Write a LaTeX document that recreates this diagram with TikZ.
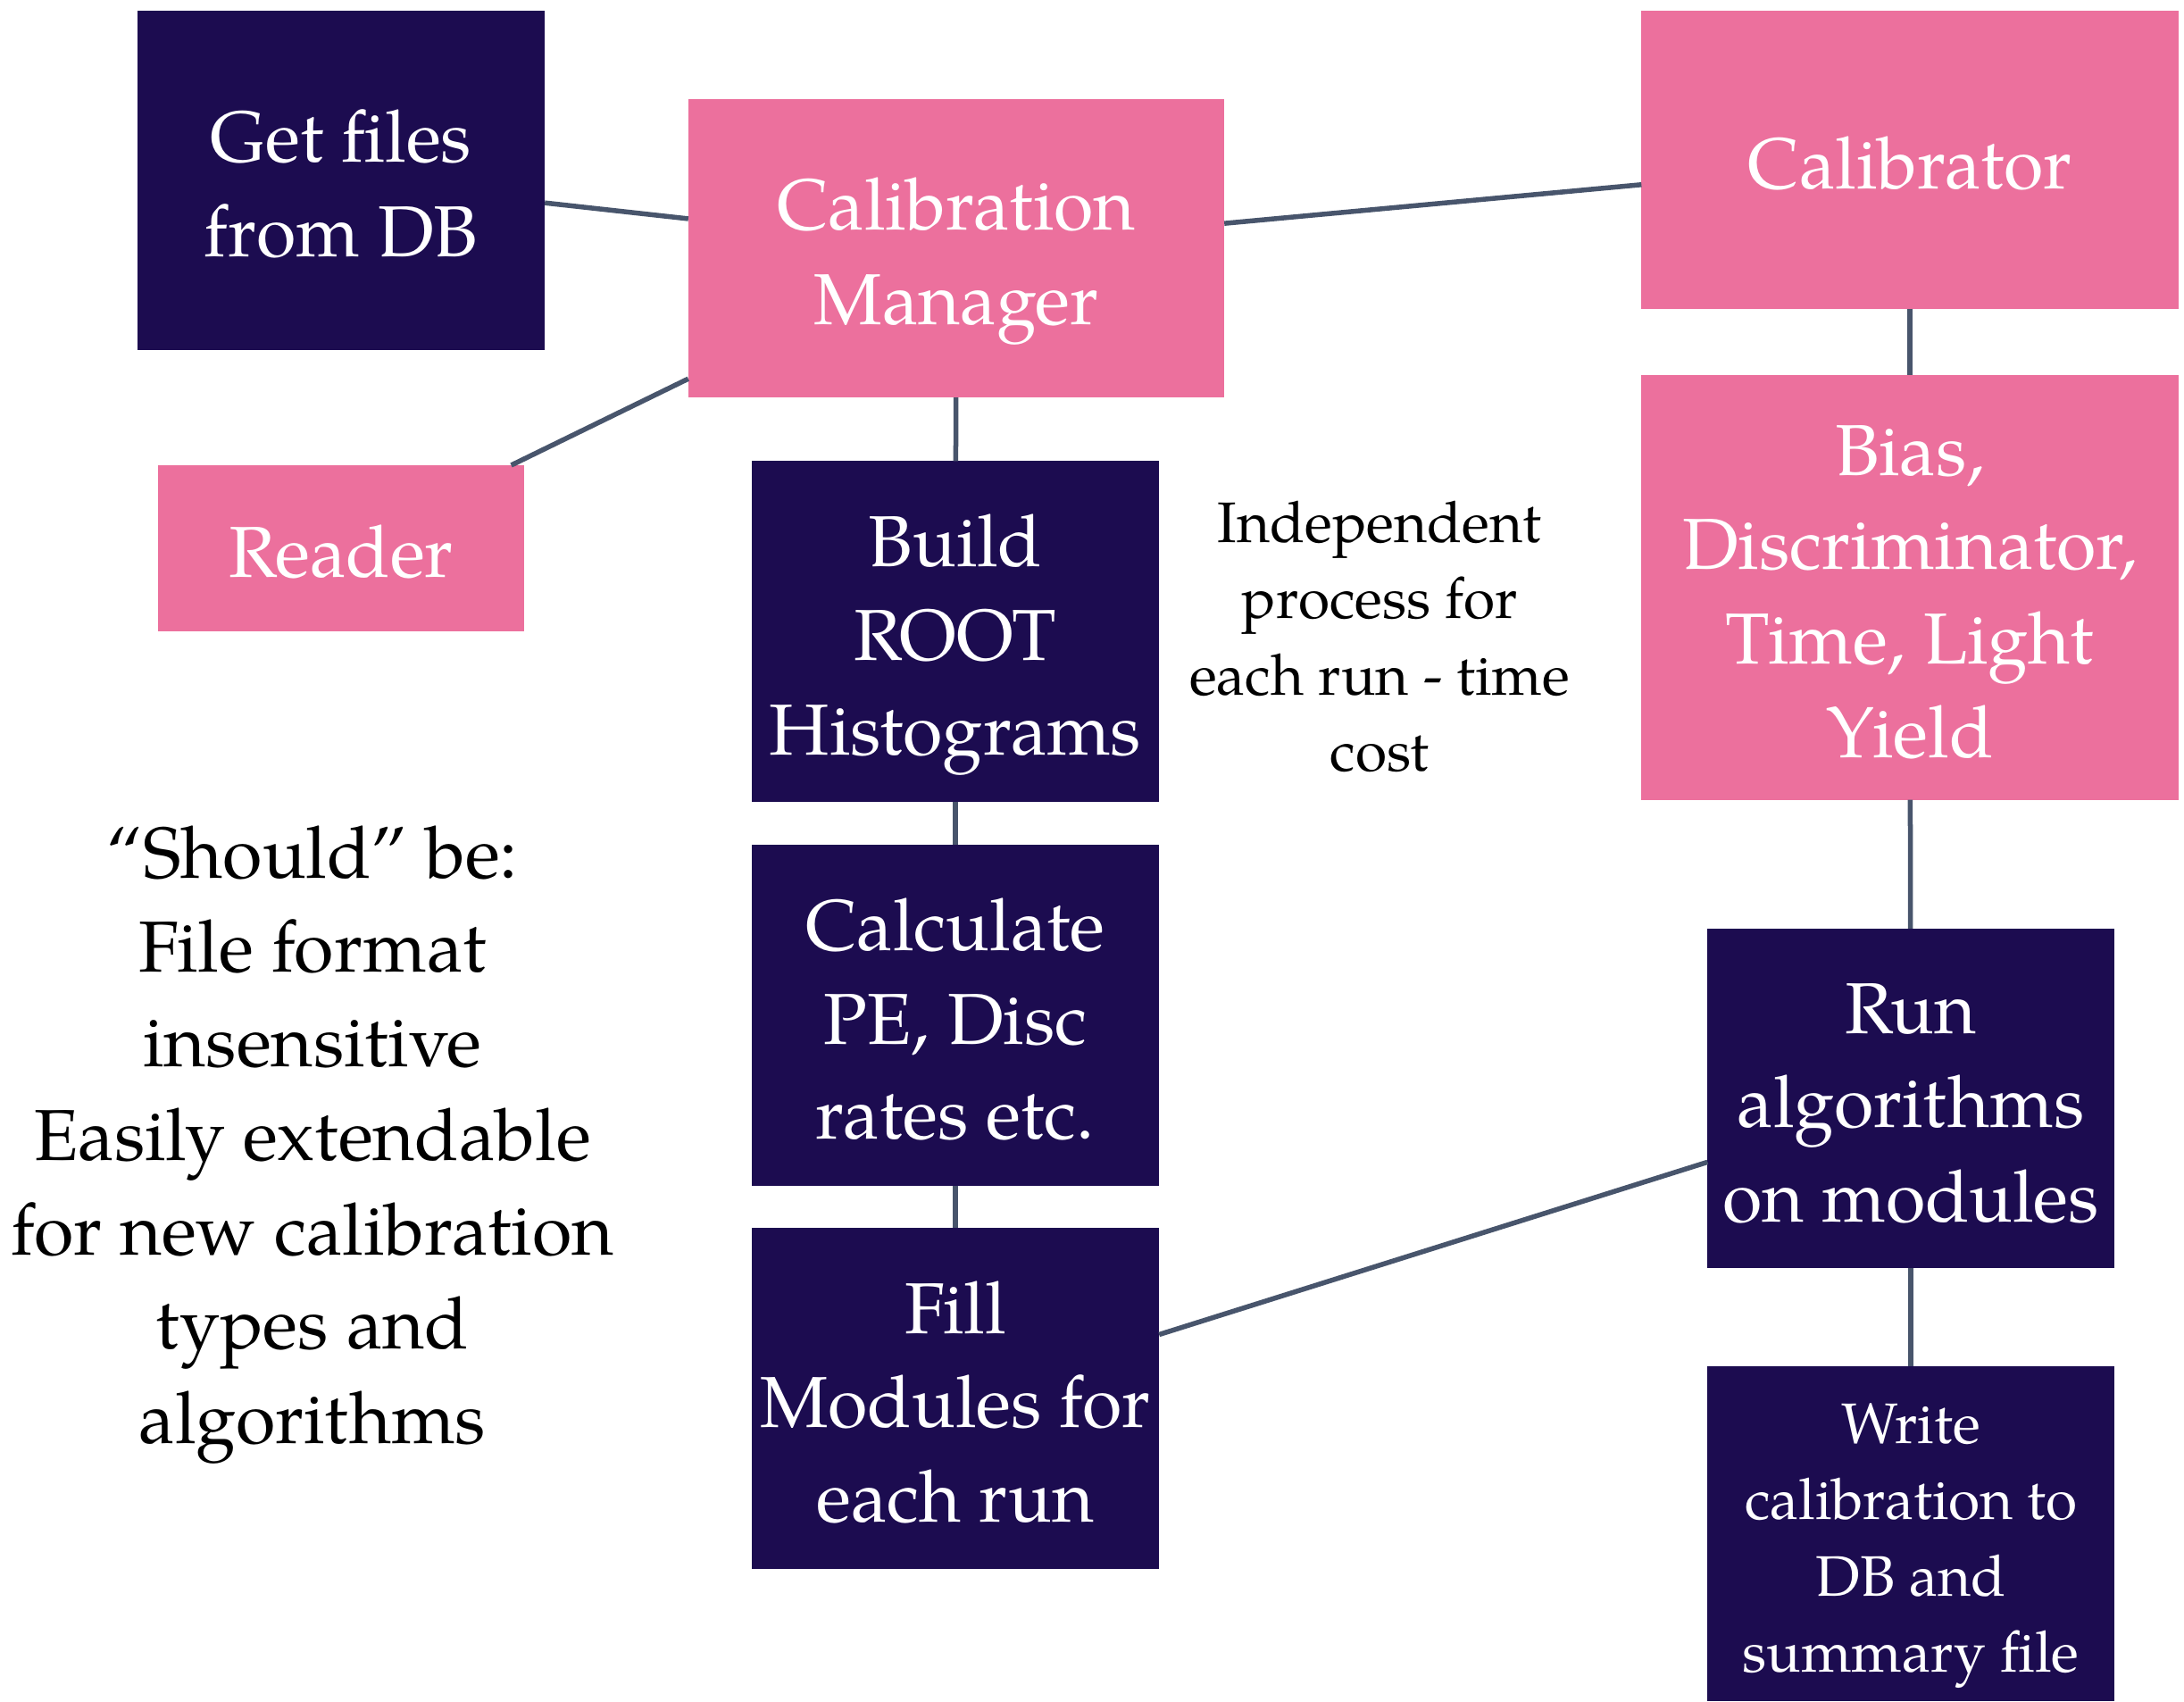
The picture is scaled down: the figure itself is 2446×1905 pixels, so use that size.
\documentclass[tikz,border=0pt]{standalone}
\usepackage{fontspec}
\setmainfont{TeX Gyre Pagella}
\definecolor{navy}{RGB}{28,12,80}
\definecolor{pinkc}{RGB}{236,112,157}
\definecolor{linec}{RGB}{72,85,108}
\newcommand\Tst{\rule{0pt}{25pt}}
\newcommand\Bst{\rule[-6.5pt]{0pt}{6.5pt}}
\newcommand\Tss{\rule{0pt}{20.4pt}}
\newcommand\Bss{\rule[-5pt]{0pt}{5pt}}
\tikzset{
  box/.style={rectangle, inner sep=0pt, outer sep=0pt, align=center, text=white,
    font=\fontsize{23}{30}\selectfont},
  navybox/.style={box, fill=navy},
  pinkbox/.style={box, fill=pinkc},
  smallfont/.style={font=\fontsize{18.2}{24.3}\selectfont},
  conn/.style={draw=linec, line width=0.055cm},
}
\begin{document}
\begin{tikzpicture}[x=0.01cm, y=-0.01cm]
\useasboundingbox (0,0) rectangle (2446,1905);
\node[navybox, minimum width=4.56cm, minimum height=3.80cm] (gf) at (382,202) {\Tst Get files\\from DB\Bst};
\node[pinkbox, minimum width=6.00cm, minimum height=3.34cm] (cm) at (1071,278) {\Tst Calibration\\Manager\Bst};
\node[pinkbox, minimum width=6.01cm, minimum height=3.33cm] (cal) at (2139,179) {\Tst Calibrator\Bst};
\node[pinkbox, minimum width=4.09cm, minimum height=1.86cm] (rd) at (382,614) {\Tst Reader\Bst};
\node[navybox, minimum width=4.56cm, minimum height=3.81cm] (bh) at (1070,707) {\Tst Build\\ROOT\\Histograms\Bst};
\node[pinkbox, minimum width=6.01cm, minimum height=4.75cm] (bias) at (2139,658) {\Tst Bias,\\Discriminator,\\Time, Light\\Yield\Bst};
\node[navybox, minimum width=4.56cm, minimum height=3.81cm] (calc) at (1070,1137) {\Tst Calculate\\PE, Disc\\rates etc.\Bst};
\node[navybox, minimum width=4.56cm, minimum height=3.81cm] (fill) at (1070,1566) {\Tst Fill\\Modules for\\each run\Bst};
\node[navybox, minimum width=4.55cm, minimum height=3.80cm] (run) at (2140,1230) {\Tst Run\\algorithms\\on modules\Bst};
\node[navybox, smallfont, minimum width=4.55cm, minimum height=3.75cm] (wr) at (2140,1717.5) {\Tss Write\\calibration to\\DB and\\summary file\Bss};
\node[smallfont, align=center, text=black, inner sep=0pt] (ind) at (1545,713) {Independent\\process for\\each run - time\\cost};
\node[align=center, text=black, inner sep=0pt, font=\fontsize{23}{30}\selectfont] (should) at (350,1282) {“Should” be:\\File format\\insensitive\\Easily extendable\\for new calibration\\types and\\algorithms};
\draw[conn] (gf) -- (cm);
\draw[conn] (cm) -- (cal);
\draw[conn] (rd) -- (cm);
\draw[conn] (cm) -- (bh);
\draw[conn] (cal) -- (bias);
\draw[conn] (bh) -- (calc);
\draw[conn] (calc) -- (fill);
\draw[conn] (bias) -- (run);
\draw[conn] (fill) -- (run);
\draw[conn] (run) -- (wr);
\end{tikzpicture}
\end{document}
